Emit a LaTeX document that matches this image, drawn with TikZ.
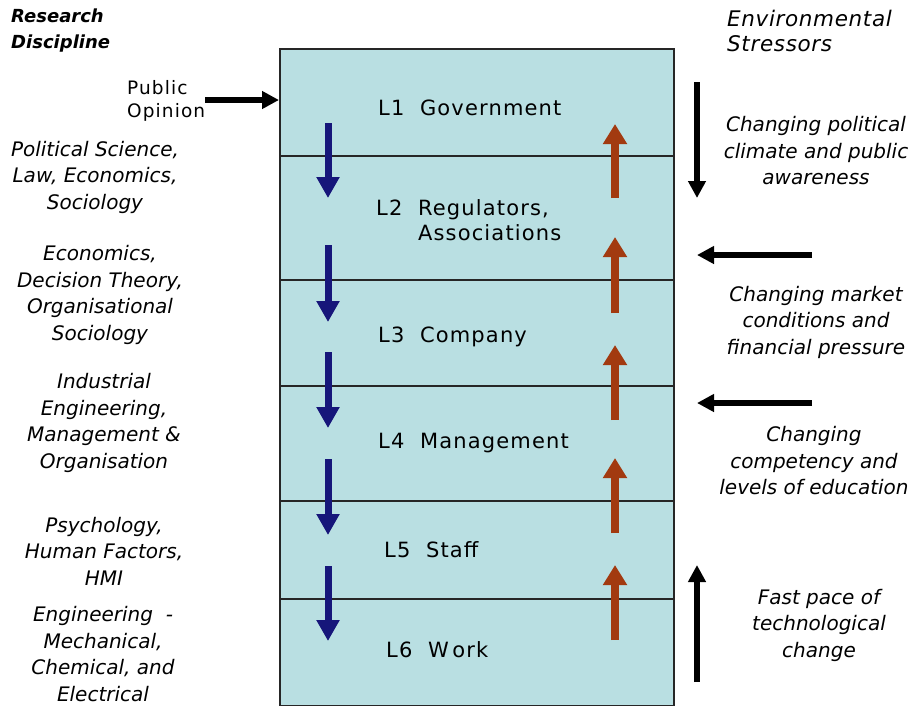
\documentclass[tikz,border=0pt]{standalone}
\usepackage{fontspec}
\setmainfont{DejaVu Sans}
\usetikzlibrary{arrows.meta}
\definecolor{boxfill}{RGB}{185,223,226}
\definecolor{downblue}{RGB}{22,22,122}
\definecolor{upred}{RGB}{162,58,16}
\begin{document}
\begin{tikzpicture}[x=1pt,y=-1pt,
  side/.style={font=\fontsize{20}{26.5}\selectfont\itshape, align=center, inner sep=0pt},
  head/.style={align=left, inner sep=0pt, anchor=west},
  level/.style={font=\fontsize{21}{25}\selectfont\addfontfeatures{LetterSpace=5.5}, align=left, inner sep=0pt, anchor=west},
  sep/.style={line width=1.1pt, draw=black!85},
  downarr/.style={draw=downblue, line width=7pt, -{Triangle[length=21pt,width=22pt]}},
  uparr/.style={draw=upred, line width=8pt, -{Triangle[length=20pt,width=23pt]}},
  blackarr/.style={draw=black, line width=6pt, -{Triangle[length=17pt,width=17pt]}}]
\useasboundingbox (0,0) rectangle (911,705);

% main stack
\node (stack) [draw=black!85, line width=1.5pt, fill=boxfill, anchor=north west,
  minimum width=394pt, minimum height=657pt, inner sep=0pt] at (279,48) {};
\draw[sep] (279,156) -- (673,156);
\draw[sep] (279,280) -- (673,280);
\draw[sep] (279,386) -- (673,386);
\draw[sep] (279,501) -- (673,501);
\draw[sep] (279,599) -- (673,599);

% headings
\node (rd) [head, font=\fontsize{18}{26}\selectfont\bfseries\itshape] at (11,31) {Research\\Discipline};
\node (es) [head, font=\fontsize{21.5}{25}\selectfont\itshape\addfontfeatures{LetterSpace=3}] at (727,31) {Environmental\\Stressors};
\node (po) [head, font=\fontsize{18.5}{22.5}\selectfont\addfontfeatures{LetterSpace=6}] at (127,101) {Public\\Opinion};

% levels
\node (l1) [level] at (378,108) {L1\ \ Government};
\node (l2) [level] at (376,220) {L2\ \ Regulators,\\\phantom{L2\ \ }Associations};
\node (l3) [level] at (378,337) {L3\ \ Company};
\node (l4) [level] at (378,443) {L4\ \ Management};
\node (l5) [level] at (384,550) {L5\ \ Staff};
\node (l6) [level] at (386,650) {L6\ \ W\,ork};

% research disciplines
\node (d1) [side] at (95,177) {Political Science,\\Law, Economics,\\Sociology};
\node (d2) [side] at (100,295) {Economics,\\Decision Theory,\\Organisational\\Sociology};
\node (d3) [side] at (104,423) {Industrial\\Engineering,\\Management \&\\Organisation};
\node (d4) [side] at (104,551) {Psychology,\\Human Factors,\\HMI};
\node (d5) [side] at (103,654) {Engineering\ \ -\\Mechanical,\\Chemical, and\\Electrical};

% stressors
\node (s1) [side] at (816,151) {Changing political\\climate and public\\awareness};
\node (s2) [side] at (816,322) {Changing market\\conditions and\\financial pressure};
\node (s3) [side] at (814,461) {Changing\\competency and\\levels of education};
\node (s4) [side] at (819,625) {Fast pace of\\technological\\change};

% arrow end points
\coordinate (pA) at (205,100); \coordinate (pB) at (stack.north west |- pA);
\coordinate (b1a) at (328,123); \coordinate (b1b) at (328,198);
\coordinate (b2a) at (328,245); \coordinate (b2b) at (328,322);
\coordinate (b3a) at (328,352); \coordinate (b3b) at (328,428);
\coordinate (b4a) at (328,459); \coordinate (b4b) at (328,535);
\coordinate (b5a) at (328,566); \coordinate (b5b) at (328,641);
\coordinate (r1a) at (615,198); \coordinate (r1b) at (615,124);
\coordinate (r2a) at (615,313); \coordinate (r2b) at (615,237);
\coordinate (r3a) at (615,420); \coordinate (r3b) at (615,345);
\coordinate (r4a) at (615,533); \coordinate (r4b) at (615,458);
\coordinate (r5a) at (615,640); \coordinate (r5b) at (615,565);
\coordinate (e1a) at (697,82);  \coordinate (e1b) at (697,198);
\coordinate (e2a) at (812,255); \coordinate (e2b) at (697,255);
\coordinate (e3a) at (812,403); \coordinate (e3b) at (697,403);
\coordinate (e4a) at (697,682); \coordinate (e4b) at (697,565);

\draw[blackarr] (pA) -- (pB);
\foreach \i in {1,...,5} {
  \draw[downarr] (b\i a) -- (b\i b);
  \draw[uparr] (r\i a) -- (r\i b);
}
\foreach \i in {1,...,4} {
  \draw[blackarr] (e\i a) -- (e\i b);
}
\end{tikzpicture}
\end{document}
